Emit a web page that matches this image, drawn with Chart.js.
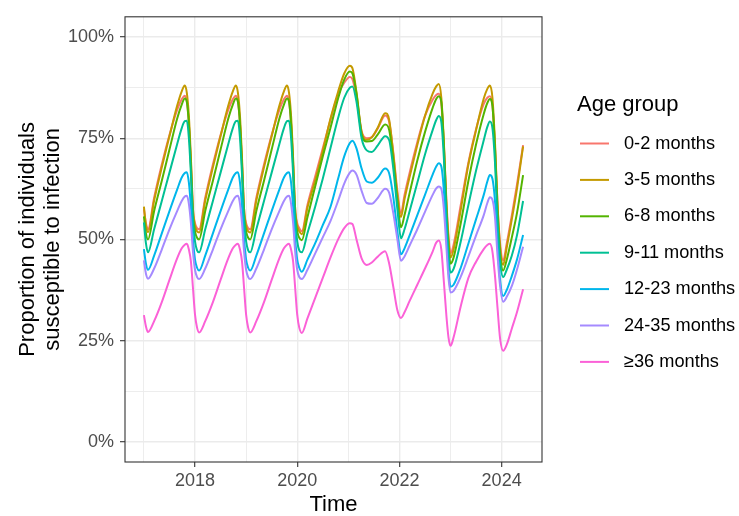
<!DOCTYPE html>
<html>
<head>
<meta charset="utf-8">
<script src="https://cdn.jsdelivr.net/npm/chart.js@4.4.1/dist/chart.umd.min.js"></script>
<style>
  body { margin: 0; background: #fff; }
  canvas { display: block; }
</style>
</head>
<body>
<canvas id="chart" width="739" height="516"></canvas>
<script>
// time points (decimal years) shared by every age group
const times = [
  2017.00, 2017.04, 2017.08, 2017.20, 2017.35, 2017.50, 2017.65, 2017.74, 2017.80, 2017.84, 2017.88, 2017.92, 2017.96,
  2018.00, 2018.04, 2018.08, 2018.20, 2018.35, 2018.50, 2018.65, 2018.74, 2018.80, 2018.84, 2018.88, 2018.92, 2018.96,
  2019.00, 2019.04, 2019.08, 2019.20, 2019.35, 2019.50, 2019.65, 2019.74, 2019.80, 2019.84, 2019.88, 2019.92, 2019.96,
  2020.00, 2020.04, 2020.09, 2020.20, 2020.35, 2020.50, 2020.65, 2020.80, 2020.92,
  2021.03, 2021.08, 2021.16, 2021.26, 2021.36, 2021.46, 2021.58, 2021.72, 2021.80, 2021.88, 2021.96,
  2022.03, 2022.10, 2022.20, 2022.35, 2022.50, 2022.65, 2022.72, 2022.77, 2022.82, 2022.87, 2022.92, 2022.96,
  2023.00, 2023.06, 2023.20, 2023.35, 2023.50, 2023.65, 2023.72, 2023.77, 2023.82, 2023.87, 2023.92, 2023.97,
  2024.03, 2024.10, 2024.20, 2024.30, 2024.42
];

// proportion susceptible (%), one array per age group
const m0_2 = [
  57.5, 54.0, 52.5, 60.3, 68.5, 75.8, 82.0, 84.6, 85.5, 84.0, 78.5, 69.0, 57.5,
  54.0, 52.8, 52.5, 60.3, 68.5, 75.8, 82.0, 84.6, 85.5, 84.0, 78.5, 69.0, 57.5,
  54.0, 52.8, 52.5, 60.3, 68.5, 75.8, 82.0, 84.6, 85.5, 84.0, 78.5, 69.0, 57.5,
  54.0, 52.8, 52.0, 58.5, 65.5, 72.5, 79.5, 85.8, 88.7,
  90.1, 89.6, 85.0, 76.8, 75.0, 75.3, 77.5, 80.6, 79.0, 71.5, 62.0,
  56.5, 61.0, 66.5, 74.0, 80.5, 84.5, 85.7, 86.0, 83.5, 73.5, 59.5, 51.0,
  46.6, 48.7, 58.5, 69.0, 77.3, 83.5, 85.0, 85.4, 83.0, 73.0, 58.5, 49.0,
  44.8, 49.0, 56.0, 63.5, 73.3
];
const m3_5 = [
  58.1, 53.5, 51.8, 59.6, 67.8, 75.5, 83.0, 86.6, 88.0, 86.2, 80.5, 70.0, 57.5,
  53.3, 52.0, 51.7, 59.6, 67.8, 75.5, 83.0, 86.6, 88.0, 86.2, 80.5, 70.0, 57.5,
  53.3, 52.0, 51.7, 59.6, 67.8, 75.5, 83.0, 86.6, 88.0, 86.2, 80.5, 70.0, 57.5,
  53.3, 52.0, 51.3, 57.8, 64.5, 71.8, 79.8, 86.5, 91.0,
  92.9, 92.3, 86.3, 76.5, 74.6, 75.2, 77.7, 81.2, 79.5, 71.0, 61.0,
  55.5, 60.0, 65.5, 73.3, 80.5, 86.0, 87.8, 88.4, 85.0, 74.0, 58.5, 50.0,
  45.5, 47.5, 57.3, 68.5, 77.0, 84.8, 87.2, 88.0, 85.0, 74.0, 58.5, 48.0,
  43.7, 48.0, 55.0, 62.5, 73.0
];
const m6_8 = [
  55.7, 51.5, 50.0, 57.0, 64.5, 72.2, 79.8, 83.3, 84.8, 84.0, 78.5, 68.0, 56.0,
  52.0, 50.4, 50.0, 57.0, 64.5, 72.2, 79.8, 83.3, 84.8, 84.0, 78.5, 68.0, 56.0,
  52.0, 50.4, 50.0, 57.0, 64.5, 72.2, 79.8, 83.3, 84.8, 84.0, 78.5, 68.0, 56.0,
  52.0, 50.4, 49.8, 55.5, 63.0, 70.5, 77.5, 84.8, 89.5,
  91.5, 91.0, 86.0, 76.0, 74.2, 74.3, 76.0, 78.4, 77.0, 69.5, 59.5,
  53.0, 56.0, 61.5, 69.5, 76.5, 82.5, 84.7, 85.4, 84.0, 73.0, 57.5, 48.5,
  44.0, 45.5, 54.0, 64.5, 73.5, 81.0, 83.7, 84.7, 83.0, 72.5, 56.5, 46.5,
  42.3, 45.0, 50.5, 56.5, 65.9
];
const m9_11 = [
  54.2, 49.0, 46.8, 52.5, 59.5, 66.5, 73.5, 77.5, 79.2, 79.3, 75.0, 66.0, 55.0,
  49.5, 47.3, 46.8, 52.5, 59.5, 66.5, 73.5, 77.5, 79.2, 79.3, 75.0, 66.0, 55.0,
  49.5, 47.3, 46.8, 52.5, 59.5, 66.5, 73.5, 77.5, 79.2, 79.3, 75.0, 66.0, 55.0,
  49.5, 47.3, 46.8, 51.5, 58.0, 65.0, 72.5, 80.0, 85.0,
  87.5, 87.8, 84.0, 75.0, 72.0, 71.6, 73.3, 75.5, 74.5, 67.5, 57.5,
  50.3, 52.5, 57.0, 64.0, 71.0, 77.0, 79.5, 80.5, 79.0, 70.0, 55.5, 46.0,
  41.8, 42.7, 49.5, 58.5, 67.0, 74.5, 77.8, 79.1, 77.5, 69.0, 54.5, 44.5,
  40.7, 42.5, 46.0, 51.0, 59.5
];
const m12_23 = [
  47.6, 44.0, 42.5, 46.0, 51.5, 57.0, 62.3, 65.3, 66.4, 66.6, 64.0, 58.0, 50.0,
  45.0, 43.0, 42.3, 46.0, 51.5, 57.0, 62.3, 65.3, 66.4, 66.6, 64.0, 58.0, 50.0,
  45.0, 43.0, 42.3, 46.0, 51.5, 57.0, 62.3, 65.3, 66.4, 66.6, 64.0, 58.0, 50.0,
  45.0, 43.0, 42.0, 45.0, 49.0, 53.5, 58.0, 65.0, 70.5,
  73.8, 74.4, 72.5, 67.5, 64.3, 64.0, 65.3, 67.5, 66.3, 60.5, 52.0,
  46.3, 47.8, 51.0, 56.0, 61.0, 66.0, 68.0, 68.8, 68.0, 62.0, 51.0, 42.5,
  38.3, 38.8, 43.0, 49.0, 55.0, 61.0, 64.3, 65.9, 65.0, 59.5, 48.5, 40.0,
  36.0, 37.5, 41.0, 45.0, 51.1
];
const m24_35 = [
  44.8, 41.5, 40.3, 42.8, 47.5, 52.5, 57.0, 59.5, 60.6, 60.8, 58.8, 54.0, 47.0,
  42.5, 40.7, 40.2, 42.8, 47.5, 52.5, 57.0, 59.5, 60.6, 60.8, 58.8, 54.0, 47.0,
  42.5, 40.7, 40.2, 42.8, 47.5, 52.5, 57.0, 59.5, 60.6, 60.8, 58.8, 54.0, 47.0,
  42.5, 40.7, 40.2, 42.5, 46.5, 50.5, 54.5, 59.5, 63.8,
  66.5, 67.0, 66.0, 62.0, 59.0, 58.8, 60.3, 62.5, 61.5, 56.5, 50.0,
  44.7, 45.8, 48.5, 52.5, 56.8, 61.0, 62.6, 63.1, 62.5, 57.5, 48.0, 40.5,
  36.9, 37.3, 40.8, 45.8, 51.0, 56.0, 59.0, 60.4, 59.8, 55.5, 46.0, 38.5,
  34.6, 35.8, 38.5, 42.5, 48.2
];
const m36plus = [
  31.3, 28.5, 27.1, 29.8, 34.5, 40.0, 45.3, 47.8, 48.7, 48.9, 47.5, 44.5, 38.0,
  31.4, 28.2, 27.0, 29.8, 34.5, 40.0, 45.3, 47.8, 48.7, 48.9, 47.5, 44.5, 38.0,
  31.4, 28.2, 27.0, 29.8, 34.5, 40.0, 45.3, 47.8, 48.7, 48.9, 47.5, 44.5, 38.0,
  31.4, 28.2, 26.9, 30.5, 35.5, 40.5, 45.5, 50.0, 52.8,
  54.0, 53.8, 50.0, 45.3, 43.7, 44.3, 45.8, 47.1, 44.0, 38.3, 32.5,
  30.6, 32.0, 34.8, 38.8, 42.8, 47.0, 49.2, 49.7, 47.5, 39.5, 31.0, 25.8,
  23.7, 25.8, 33.5, 40.5, 44.5, 47.6, 48.6, 48.9, 47.0, 41.0, 33.0, 25.5,
  22.5, 24.0, 28.0, 32.0, 37.7
];

const groups = ['0-2 months', '3-5 months', '6-8 months', '9-11 months', '12-23 months', '24-35 months', '≥36 months'];
const groupValues = [m0_2, m3_5, m6_8, m9_11, m12_23, m24_35, m36plus];
const colors = ['#F8766D', '#C49A00', '#53B400', '#00C094', '#00B6EB', '#A58AFF', '#FB61D7'];

const xMajor = [2018, 2020, 2022, 2024];
const xMinor = [2017, 2019, 2021, 2023];
const yMajor = [0, 25, 50, 75, 100];
const yMinor = [12.5, 37.5, 62.5, 87.5];

const FONT = "'Liberation Sans', Arial, Helvetica, sans-serif";
Chart.defaults.font.family = FONT;

const datasets = groups.map((g, i) => ({
  label: g,
  data: times.map((t, k) => ({ x: t, y: groupValues[i][k] })),
  borderColor: colors[i],
  backgroundColor: colors[i],
  borderWidth: 2,
  pointRadius: 0,
  fill: false,
  cubicInterpolationMode: 'monotone',
  order: groups.length - 1 - i
}));

// panel border + ggplot style legend
const frameAndLegend = {
  id: 'frameAndLegend',
  afterDraw(chart) {
    const ctx = chart.ctx;
    const a = chart.chartArea;
    ctx.save();
    ctx.strokeStyle = '#333333';
    ctx.lineWidth = 1.1;
    ctx.strokeRect(a.left, a.top, a.right - a.left, a.bottom - a.top);

    ctx.fillStyle = '#000';
    ctx.textBaseline = 'middle';
    ctx.textAlign = 'left';
    ctx.font = '22px ' + FONT;
    ctx.fillText('Age group', 577, 105);
    ctx.font = '18.2px ' + FONT;
    groups.forEach((g, i) => {
      const y = 143.5 + i * 36.4;
      ctx.strokeStyle = colors[i];
      ctx.lineWidth = 2;
      ctx.beginPath();
      ctx.moveTo(580, y);
      ctx.lineTo(609, y);
      ctx.stroke();
      ctx.fillText(g, 624, y);
    });
    ctx.restore();
  }
};

new Chart(document.getElementById('chart'), {
  type: 'line',
  data: { datasets: datasets },
  options: {
    responsive: false,
    animation: false,
    devicePixelRatio: 1,
    layout: { padding: { top: 8, right: 197, bottom: 0, left: 0 } },
    plugins: { legend: { display: false }, tooltip: { enabled: false } },
    scales: {
      x: {
        type: 'linear',
        min: 2016.63,
        max: 2024.79,
        afterBuildTicks: s => { s.ticks = xMinor.concat(xMajor).sort().map(v => ({ value: v })); },
        afterFit: s => { s.height = 54; },
        ticks: {
          autoSkip: false, maxRotation: 0, padding: 3,
          color: '#4D4D4D', font: { size: 18 },
          callback: v => xMajor.includes(v) ? String(v) : ''
        },
        grid: {
          color: '#EBEBEB',
          lineWidth: c => xMajor.includes(c.tick && c.tick.value) ? 1.4 : 0.9,
          tickLength: 5,
          tickWidth: 1.1,
          tickColor: c => xMajor.includes(c.tick && c.tick.value) ? '#333333' : 'rgba(0,0,0,0)'
        },
        border: { display: false },
        title: { display: true, text: 'Time', color: '#000', font: { size: 22, lineHeight: 1.0 }, padding: 0 }
      },
      y: {
        min: -5,
        max: 105,
        afterBuildTicks: s => { s.ticks = yMajor.concat(yMinor).sort((p, q) => p - q).map(v => ({ value: v })); },
        afterFit: s => { s.width = 125; },
        ticks: {
          autoSkip: false, padding: 6,
          color: '#4D4D4D', font: { size: 18 },
          callback: v => yMajor.includes(v) ? v + '%' : ''
        },
        grid: {
          color: '#EBEBEB',
          lineWidth: c => yMajor.includes(c.tick && c.tick.value) ? 1.4 : 0.9,
          tickLength: 5,
          tickWidth: 1.1,
          tickColor: c => yMajor.includes(c.tick && c.tick.value) ? '#333333' : 'rgba(0,0,0,0)'
        },
        border: { display: false },
        title: {
          display: true,
          text: ['Proportion of individuals', 'susceptible to infection'],
          color: '#000',
          font: { size: 22, lineHeight: 1.14 },
          padding: { top: 15, bottom: 0 }
        }
      }
    }
  },
  plugins: [frameAndLegend]
});
</script>
</body>
</html>
